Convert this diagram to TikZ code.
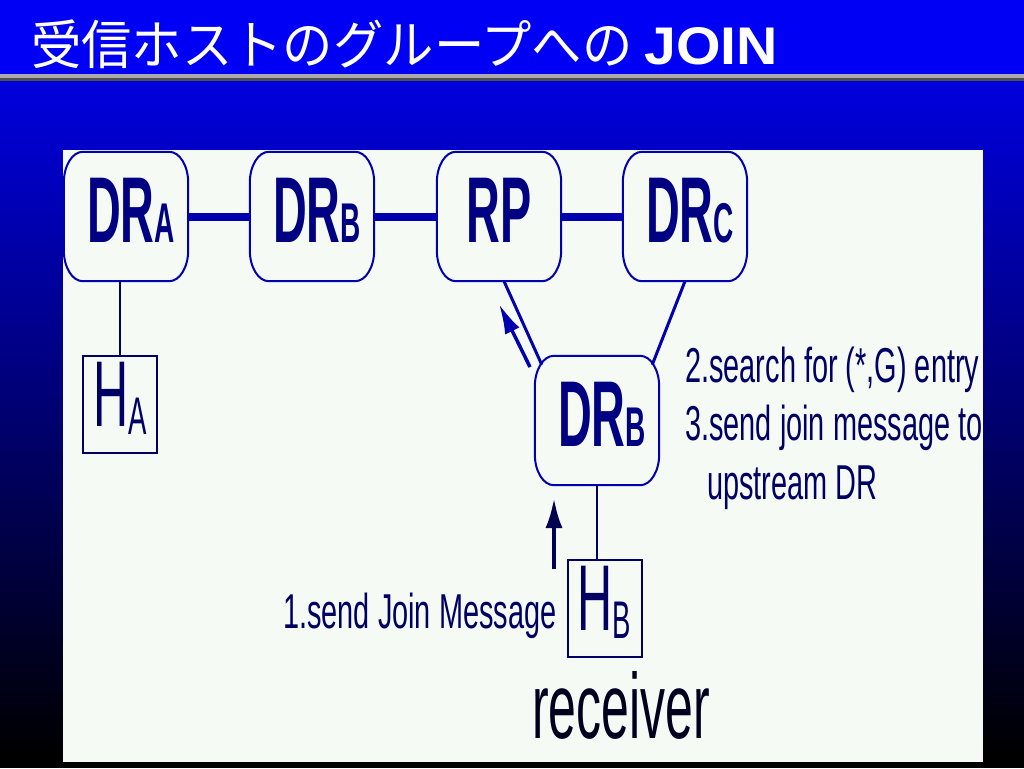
\documentclass[tikz,border=0pt]{standalone}
\usepackage{fontspec}
\setmainfont{Liberation Sans}
\newfontfamily\jpfont{Noto Sans CJK JP}
\usetikzlibrary{arrows.meta,calc}
\definecolor{bandblue}{RGB}{0,0,245}
\definecolor{gradtop}{RGB}{0,0,222}
\definecolor{panel}{RGB}{245,250,245}
\definecolor{lgrey}{RGB}{170,170,170}
\definecolor{dgrey}{RGB}{80,80,80}
\definecolor{boxblue}{RGB}{0,0,176}
\definecolor{labblue}{RGB}{0,0,130}
\definecolor{hblue}{RGB}{0,0,100}
\definecolor{txtblue}{RGB}{0,0,100}
\definecolor{arrblue}{RGB}{0,0,80}
\definecolor{recvcol}{RGB}{0,0,30}

\newcommand\bigfnt{\fontsize{93.5}{93.5}\selectfont}
\newcommand\subfnt{\fontsize{56}{56}\selectfont}
\newcommand\drlabel[2]{\scalebox{0.5}[1]{\bfseries\bigfnt\hspace{20pt}#1\subfnt #2}}
\newcommand\rplabel[1]{\scalebox{0.5}[1]{\bfseries\bigfnt #1}}
\newcommand\hlabel[1]{\scalebox{0.52}[1]{\bigfnt H\raisebox{-8pt}{\fontsize{53}{53}\selectfont #1}}}
\newcommand\smtext[1]{\scalebox{0.59}[1]{\fontsize{49}{49}\selectfont #1}}

\newcommand\rrbox[1]{%
  \draw[boxline] ([xshift=19pt]#1.north west) -- ([xshift=-19pt]#1.north east)
    arc[start angle=90,end angle=0,x radius=19pt,y radius=31pt]
    -- ([yshift=31pt]#1.south east)
    arc[start angle=0,end angle=-90,x radius=19pt,y radius=31pt]
    -- ([xshift=19pt]#1.south west)
    arc[start angle=270,end angle=180,x radius=19pt,y radius=31pt]
    -- ([yshift=-31pt]#1.north west)
    arc[start angle=180,end angle=90,x radius=19pt,y radius=31pt] -- cycle;}

\begin{document}
\begin{tikzpicture}[x=1pt,y=-1pt,
  router/.style={minimum width=124pt, minimum height=129pt, inner sep=0pt, text depth=12pt, text=labblue},
  boxline/.style={draw=boxblue, line width=2pt},
  host/.style={draw=hblue, line width=2pt, minimum width=74pt, minimum height=97pt, inner sep=0pt, text depth=21pt, text=hblue},
  trunk/.style={draw=boxblue, line width=8pt},
  link/.style={draw=boxblue, line width=3pt},
  stub/.style={draw=hblue, line width=1.5pt},
  slantarrow/.style={draw=boxblue, line width=3.5pt, -{Latex[length=30pt,width=16pt]}},
  joinarrow/.style={draw=arrblue, line width=4pt, -{Latex[length=30pt,width=17pt]}},
  note/.style={anchor=base west, inner sep=0pt, text=txtblue}
]
\useasboundingbox (0,0) rectangle (1024,768);
% background
\fill[bandblue] (0,0) rectangle (1024,74);
\fill[lgrey] (0,74) rectangle (1024,77.5);
\fill[dgrey] (0,77.5) rectangle (1024,81);
\shade[top color=gradtop, bottom color=black] (0,81) rectangle (1024,755);
\fill[black] (0,755) rectangle (1024,768);
\fill[panel] (63,150) rectangle (983,762);

% title
\node[anchor=base west, inner sep=0pt, text=white] (title) at (31,64)
  {{\jpfont\scalebox{0.95}[1]{\fontsize{53}{53}\selectfont 受信ホストのグループへの}}\hspace{12pt}\scalebox{1.08}[1]{\fontsize{53}{53}\selectfont\bfseries JOIN}};

% routers
\node[router] (DRA) at (126,216.5) {\drlabel{DR}{A}};
\node[router] (DRB) at (312,216.5) {\drlabel{DR}{B}};
\node[router] (RP)  at (499,216.5) {\rplabel{RP}};
\node[router] (DRC) at (685,216.5) {\drlabel{DR}{C}};
\node[router] (DRB2) at (597,420.5) {\drlabel{DR}{B}};
\rrbox{DRA}\rrbox{DRB}\rrbox{RP}\rrbox{DRC}\rrbox{DRB2}

% hosts
\node[host] (HA) at (120,404.5) {\hlabel{A}};
\node[host] (HB) at (604.5,608.5) {\hlabel{B}};

% connectors
\draw[trunk] (DRA.east) -- (DRB.west);
\draw[trunk] (DRB.east) -- (RP.west);
\draw[trunk] (RP.east) -- (DRC.west);
\draw[link] ([xshift=5pt]RP.south) -- ([xshift=7pt,yshift=-9pt]DRB2.north west);
\draw[link] (DRC.south) -- ([xshift=-7pt,yshift=-9pt]DRB2.north east);
\draw[stub] (HA.north) -- (HA.north |- DRA.south);
\draw[stub] (DRB2.south) -- (DRB2.south |- HB.north);

\coordinate (st) at (530,367);
\coordinate (sh) at (499,304);
\draw[slantarrow] (st) -- (sh);
\coordinate (jt) at (554,569);
\coordinate (jh) at (554,498);
\draw[joinarrow] (jt) -- (jh);

% notes
\node[note] (t2) at (685,382) {\smtext{2.search for (*,G) entry}};
\node[note] (t3) at (685,440) {\smtext{3.send join message to}};
\node[note] (t3b) at (707,499) {\smtext{upstream DR}};
\node[note] (t1) at (283,628) {\smtext{1.send Join Message}};
\node[note, text=recvcol] (recv) at (532,738) {\scalebox{0.54}[1]{\fontsize{92.5}{92.5}\selectfont receiver}};
\end{tikzpicture}
\end{document}
